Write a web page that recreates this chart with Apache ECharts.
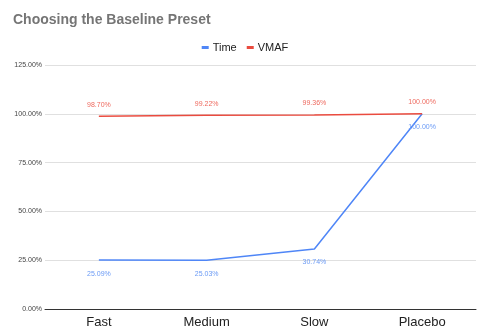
<!DOCTYPE html>
<html>
<head>
<meta charset="utf-8">
<script src="https://cdn.jsdelivr.net/npm/echarts@6/dist/echarts.min.js"></script>
<style>
  html, body { margin: 0; padding: 0; background: #fff; }
  #chart { width: 490px; height: 330px; }
</style>
</head>
<body>
<div id="chart"></div>
<script>
// Presets along the x axis
const presets = ['Fast', 'Medium', 'Slow', 'Placebo'];
// Relative encode time (%)
const timeValues = [25.09, 25.03, 30.74, 100.00];
// Relative VMAF score (%)
const vmafValues = [98.70, 99.22, 99.36, 100.00];

const FONT = '"Liberation Sans", Arial, sans-serif';
const chart = echarts.init(document.getElementById('chart'));
const fmt = v => v.toFixed(2) + '%';

chart.setOption({
  animation: false,
  title: {
    text: 'Choosing the Baseline Preset',
    left: 13, top: 13, padding: 0,
    textStyle: { fontFamily: FONT, fontSize: 14, fontWeight: 'bold', color: '#757575' }
  },
  legend: {
    data: ['Time', 'VMAF'],
    top: 37, left: 'center',
    itemWidth: 7, itemHeight: 3, itemGap: 10,
    icon: 'rect',
    textStyle: { fontFamily: FONT, fontSize: 11, color: '#222', padding: [0, 0, 0, -1] }
  },
  grid: { left: 45, right: 14, top: 65, bottom: 21, containLabel: false },
  xAxis: {
    type: 'category',
    data: presets,
    boundaryGap: true,
    axisLine: { lineStyle: { color: '#333', width: 1 } },
    axisTick: { show: false },
    axisLabel: { fontFamily: FONT, fontSize: 13, color: '#222', margin: 7 }
  },
  yAxis: {
    type: 'value',
    min: 0, max: 125, interval: 25,
    axisLine: { show: false },
    axisTick: { show: false },
    splitLine: { lineStyle: { color: '#e0e0e0' } },
    axisLabel: {
      fontFamily: FONT, fontSize: 7, color: '#444', margin: 3,
      formatter: v => v.toFixed(2) + '%'
    }
  },
  series: [
    {
      name: 'Time',
      type: 'line',
      data: timeValues,
      symbol: 'circle',
      symbolSize: 0.1,
      showSymbol: true,
      color: '#4f86f7',
      lineStyle: { width: 1.5 },
      label: {
        show: true, position: 'bottom', distance: 10,
        fontFamily: FONT, fontSize: 7, color: '#6a9af5',
        formatter: p => fmt(p.value)
      }
    },
    {
      name: 'VMAF',
      type: 'line',
      data: vmafValues,
      symbol: 'circle',
      symbolSize: 0.1,
      showSymbol: true,
      color: '#ea4b3f',
      lineStyle: { width: 1.5 },
      label: {
        show: true, position: 'top', distance: 8,
        fontFamily: FONT, fontSize: 7, color: '#ee6a5f',
        formatter: p => fmt(p.value)
      }
    }
  ]
});
</script>
</body>
</html>
